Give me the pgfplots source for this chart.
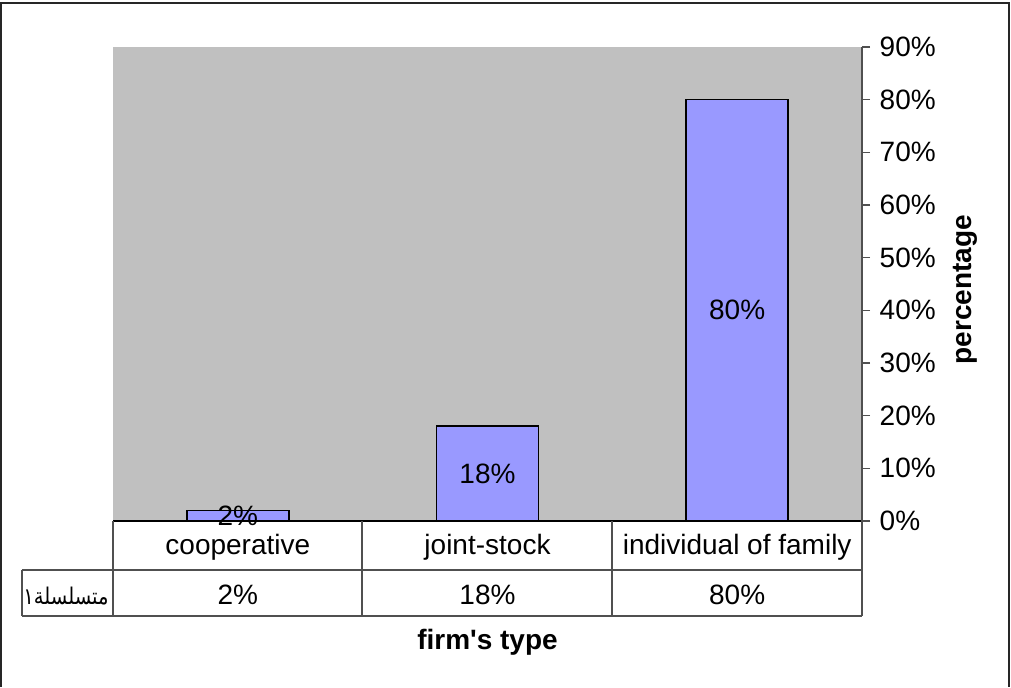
\documentclass[border=0pt]{standalone}
\usepackage{pgfplots}
\pgfplotsset{compat=1.18}
\usepackage{fontspec}
\setmainfont{Liberation Sans}[Ligatures=TeXOff]
\newfontfamily\arabicfont[Script=Arabic]{DejaVu Sans}
\TeXXeTstate=1
\definecolor{plotgray}{HTML}{C0C0C0}
\definecolor{barblue}{HTML}{9999FF}
\definecolor{axisgray}{HTML}{505050}

\begin{document}
\fontsize{14}{17}\selectfont
\begin{tikzpicture}
\begin{axis}[
  scale only axis,
  width=374.5pt, height=237pt,
  xmin=-0.5, xmax=2.5,
  ymin=0, ymax=90,
  axis background/.style={fill=plotgray},
  axis y line*=right,
  axis x line*=bottom,
  x axis line style={black, line width=0.75pt},
  y axis line style={axisgray, line width=0.6pt},
  ytick={0,10,...,90},
  yticklabel={\pgfmathprintnumber{\tick}\%},
  /pgf/number format/assume math mode=true,
  ytick align=outside,
  ytick style={axisgray, line width=0.6pt},
  major tick length=4pt,
  xtick={0,1,2},
  xticklabels={cooperative, joint-stock, individual of family},
  xtick style={draw=none},
  xticklabel style={anchor=base, yshift=-16.5pt},
  extra x ticks={0,1,2},
  extra x tick labels={2\%, 18\%, 80\%},
  extra x tick style={xticklabel style={yshift=-25pt}, tick style={draw=none}},
  ylabel={\bfseries percentage},
  ylabel style={at={(axis description cs:1.1375,0.488)}, anchor=center, rotate=0},
  xlabel={\bfseries firm's type},
  xlabel style={at={(axis description cs:0.5,-0.2553)}, anchor=center},
  clip=false,
]
\addplot[ybar, bar width=51pt, bar shift=0pt, fill=barblue, draw=black, line width=0.75pt,
  point meta=explicit symbolic,
  visualization depends on={y \as \rawy},
  nodes near coords,
  every node near coord/.append style={anchor=center, yshift=-\rawy*1.316667pt, text=black}]
  coordinates {(0,2) [2\%] (1,18) [18\%] (2,80) [80\%]};
\end{axis}
% data table grid and frame, in pixel units with the plot's lower left corner at (113,521)
\begin{scope}[x=0.5pt, y=-0.5pt, shift={(-56.5pt,260.5pt)}]
  \path[use as bounding box] (0,0) rectangle (1011,687);
  \draw[axisgray, line width=0.6pt]
    (113,521) -- (113,616)
    (362,521) -- (362,616)
    (612,521) -- (612,616)
    (862,521) -- (862,616)
    (22,570) -- (862,570)
    (22,616) -- (862,616)
    (22,570) -- (22,616);
  \node[anchor=east, inner sep=0pt] at (109,596)
    {\scalebox{0.85}[1]{\fontsize{11.5}{13}\arabicfont\beginR متسلسلة١\endR}};
  \draw[black!85, line width=0.9pt] (1,687) -- (1,3) -- (1009,3) -- (1009,687);
\end{scope}
\end{tikzpicture}
\end{document}
